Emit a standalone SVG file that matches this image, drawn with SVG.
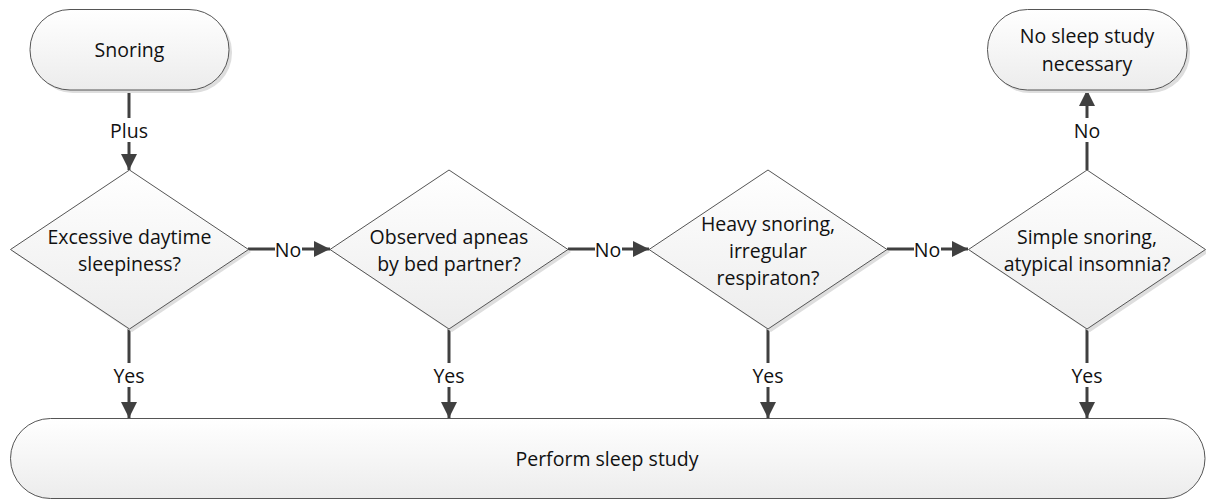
<svg xmlns="http://www.w3.org/2000/svg" width="1206" height="499" viewBox="0 0 1206 499">
<defs>
<linearGradient id="g" x1="0" y1="0" x2="0" y2="1">
<stop offset="0" stop-color="#ffffff"/>
<stop offset="1" stop-color="#ececec"/>
</linearGradient>
<marker id="ah" viewBox="0 0 16 16" refX="16" refY="8" markerWidth="16" markerHeight="16" markerUnits="userSpaceOnUse" orient="auto">
<path d="M0,0 L16,8 L0,16 Z" fill="#404040"/>
</marker>
<style>
.shape{fill:url(#g);stroke:#555555;stroke-width:1}
.shadow{fill:#dedede;stroke:none}
.t{font-family:"Open Sans","Liberation Sans",sans-serif;font-size:19.5px;fill:#111111;text-anchor:middle;dominant-baseline:central}
.c{stroke:#404040;stroke-width:3;fill:none}
.lbl{font-family:"Open Sans","Liberation Sans",sans-serif;font-size:19.5px;fill:#111111;text-anchor:middle;dominant-baseline:central}
.bg{fill:#ffffff}
</style>
</defs>
<rect width="1206" height="499" fill="#ffffff"/>

<g id="connectors">
<line class="c" x1="129" y1="90" x2="129" y2="170" marker-end="url(#ah)"/>
<rect class="bg" x="109" y="118" width="40" height="24"/>
<text class="lbl" x="129" y="130">Plus</text>

<line class="c" x1="248" y1="249" x2="330" y2="249" marker-end="url(#ah)"/>
<rect class="bg" x="275" y="238" width="27" height="22"/>
<text class="lbl" x="288" y="249">No</text>
<line class="c" x1="568" y1="249" x2="649" y2="249" marker-end="url(#ah)"/>
<rect class="bg" x="595" y="238" width="27" height="22"/>
<text class="lbl" x="608" y="249">No</text>
<line class="c" x1="887" y1="249" x2="968" y2="249" marker-end="url(#ah)"/>
<rect class="bg" x="914" y="238" width="27" height="22"/>
<text class="lbl" x="927" y="249">No</text>

<line class="c" x1="1087" y1="170" x2="1087" y2="90" marker-end="url(#ah)"/>
<rect class="bg" x="1074" y="118" width="26" height="24"/>
<text class="lbl" x="1087" y="130">No</text>

<line class="c" x1="129" y1="329" x2="129" y2="418" marker-end="url(#ah)"/>
<rect class="bg" x="111" y="363" width="36" height="24"/>
<text class="lbl" x="129" y="375">Yes</text>
<line class="c" x1="449" y1="329" x2="449" y2="418" marker-end="url(#ah)"/>
<rect class="bg" x="431" y="363" width="36" height="24"/>
<text class="lbl" x="449" y="375">Yes</text>
<line class="c" x1="768" y1="329" x2="768" y2="418" marker-end="url(#ah)"/>
<rect class="bg" x="750" y="363" width="36" height="24"/>
<text class="lbl" x="768" y="375">Yes</text>
<line class="c" x1="1087" y1="329" x2="1087" y2="418" marker-end="url(#ah)"/>
<rect class="bg" x="1069" y="363" width="36" height="24"/>
<text class="lbl" x="1087" y="375">Yes</text>
</g>

<g id="snoring">
<rect class="shadow" x="33" y="12" width="199" height="81" rx="40"/>
<rect class="shape" x="30" y="9.5" width="199" height="80.5" rx="40"/>
<text class="t" x="129.5" y="49">Snoring</text>
</g>

<g id="no-sleep-study">
<rect class="shadow" x="990" y="12" width="200" height="81" rx="40"/>
<rect class="shape" x="987.5" y="9.5" width="199.5" height="80.5" rx="40"/>
<text class="t" x="1087" y="35">No sleep study</text>
<text class="t" x="1087" y="63">necessary</text>
</g>

<g id="d1">
<path class="shadow" d="M132,173 L251,252 L132,332 L13,252 Z"/>
<path class="shape" d="M129.5,170 L248.5,249.5 L129.5,329 L10.5,249.5 Z"/>
<text class="t" x="129.5" y="236">Excessive daytime</text>
<text class="t" x="129.5" y="263">sleepiness?</text>
</g>

<g id="d2">
<path class="shadow" d="M452,173 L571,252 L452,332 L333,252 Z"/>
<path class="shape" d="M449,170 L568,249.5 L449,329 L330,249.5 Z"/>
<text class="t" x="449" y="236">Observed apneas</text>
<text class="t" x="449" y="263">by bed partner?</text>
</g>

<g id="d3">
<path class="shadow" d="M771,173 L890,252 L771,332 L652,252 Z"/>
<path class="shape" d="M768,170 L887,249.5 L768,329 L649,249.5 Z"/>
<text class="t" x="768" y="223">Heavy snoring,</text>
<text class="t" x="768" y="250">irregular</text>
<text class="t" x="768" y="277">respiraton?</text>
</g>

<g id="d4">
<path class="shadow" d="M1090,173 L1209,252 L1090,332 L971,252 Z"/>
<path class="shape" d="M1087,170 L1205.5,249.5 L1087,329 L968.5,249.5 Z"/>
<text class="t" x="1087" y="236">Simple snoring,</text>
<text class="t" x="1087" y="263">atypical insomnia?</text>
</g>

<g id="perform">
<rect class="shape" x="10.5" y="418.5" width="1194.5" height="80" rx="40"/>
<text class="t" x="607" y="458">Perform sleep study</text>
</g>
</svg>
